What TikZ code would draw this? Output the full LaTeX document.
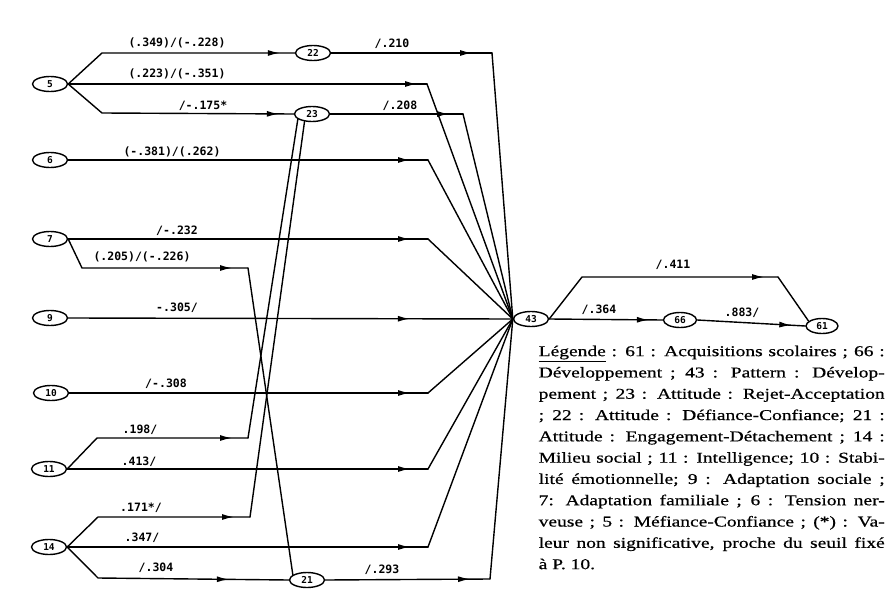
\documentclass[tikz,border=0pt]{standalone}
\usepackage{fontspec}
\setmainfont{Liberation Serif}
\newfontfamily\lblfont{DejaVu Sans Mono}
\newfontfamily\legfont[FakeStretch=1.3,FakeBold=0.6]{Liberation Serif}
\usetikzlibrary{shapes.geometric,arrows.meta,decorations.markings}
\begin{document}
\begin{tikzpicture}[x=1pt,y=-1pt,
  line width=1.4pt, line cap=round, line join=round,
  var/.style={ellipse,draw,line width=1.4pt,minimum width=35pt,minimum height=15pt,inner sep=0pt,
    font=\lblfont\bfseries\fontsize{9.5}{9.5}\selectfont},
  lbl/.style={font=\lblfont\bfseries\fontsize{11.5}{12}\selectfont,inner sep=0pt},
  ar/.style={postaction={decorate},decoration={markings,
    mark=at position #1 with {\arrow{Latex[length=12pt,width=6pt]}}}},
  ar/.default=-10pt]
\useasboundingbox (0,0) rectangle (894,610);

% nodes
\node[var] (n5) at (50,84) {5};
\node[var] (n6) at (50,160) {6};
\node[var] (n7) at (50,239) {7};
\node[var] (n9) at (50,318) {9};
\node[var] (n10) at (51,393) {10};
\node[var] (n11) at (49,469) {11};
\node[var] (n14) at (49,547) {14};
\node[var] (n22) at (313,53) {22};
\node[var] (n23) at (312,114) {23};
\node[var] (n21) at (307,580) {21};
\node[var] (n43) at (531,319) {43};
\node[var,minimum width=33pt] (n66) at (680,320) {66};
\node[var,minimum width=32pt] (n61) at (822,326) {61};

% bend points
\coordinate (b5a) at (102,53);
\coordinate (b5c) at (102,113);
\coordinate (e5b) at (427,84);
\coordinate (e22) at (492,53);
\coordinate (e23) at (463,114);
\coordinate (e6) at (428,160);
\coordinate (e7) at (428,239);
\coordinate (b7) at (82,268);
\coordinate (e7b) at (248,268);
\coordinate (e10) at (428,393);
\coordinate (b11) at (97,438);
\coordinate (e11a) at (248,438);
\coordinate (e11) at (428,469);
\coordinate (b14a) at (98,517);
\coordinate (e14a) at (250,517);
\coordinate (e14) at (428,547);
\coordinate (b14c) at (98,578);
\coordinate (e21) at (490,579);
\coordinate (b43) at (582,277);
\coordinate (e43) at (778,277);

% connectors
\draw[ar=-15pt] (n5.east) -- (b5a) -- (n22.west);
\draw[ar=-20pt] (n22.east) -- (e22);
\draw (e22) -- (n43.west);
\draw[ar=-10pt] (n5.east) -- (e5b);
\draw (e5b) -- (n43.west);
\draw[ar=-15pt] (n5.east) -- (b5c) -- (n23.west);
\draw[ar=-14pt] (n23.east) -- (e23);
\draw (e23) -- (n43.west);
\draw[ar=-18pt] (n6.east) -- (e6);
\draw (e6) -- (n43.west);
\draw[ar=-18pt] (n7.east) -- (e7);
\draw (e7) -- (n43.west);
\draw[ar=-16pt] (n7.east) -- (b7) -- (e7b);
\draw (e7b) -- (n21.160);
\draw[ar=-103pt] (n9.east) -- (n43.west);
\draw[ar=-18pt] (n10.east) -- (e10);
\draw (e10) -- (n43.west);
\draw[ar=-16pt] (n11.east) -- (b11) -- (e11a);
\draw (e11a) -- (n23.200);
\draw[ar=-18pt] (n11.east) -- (e11);
\draw (e11) -- (n43.west);
\draw[ar=-16pt] (n14.east) -- (b14a) -- (e14a);
\draw (e14a) -- (n23.225);
\draw[ar=-18pt] (n14.east) -- (e14);
\draw (e14) -- (n43.west);
\draw[ar=-60pt] (n14.east) -- (b14c) -- (n21.west);
\draw[ar=-20pt] (n21.east) -- (e21);
\draw (e21) -- (n43.west);
\draw[ar=-14pt] (n43.east) -- (b43) -- (e43);
\draw (e43) -- (n61.160);
\draw[ar=-14pt] (n43.east) -- (n66.west);
\draw[ar=-14pt] (n66.east) -- (n61.west);

% edge labels
\node[lbl] (l1) at (177,43) {(.349)/(-.228)};
\node[lbl] (l2) at (177,74) {(.223)/(-.351)};
\node[lbl] (l3) at (203,106) {/-.175*};
\node[lbl] (l4) at (172,152) {(-.381)/(.262)};
\node[lbl] (l5) at (392,44) {/.210};
\node[lbl] (l6) at (400,106) {/.208};
\node[lbl] (l7) at (177,231) {/-.232};
\node[lbl] (l8) at (142,257) {(.205)/(-.226)};
\node[lbl] (l9) at (177,308) {-.305/};
\node[lbl] (l10) at (166,384) {/-.308};
\node[lbl] (l11) at (140,430) {.198/};
\node[lbl] (l12) at (139,462) {.413/};
\node[lbl] (l13) at (141,508) {.171*/};
\node[lbl] (l14) at (142,538) {.347/};
\node[lbl] (l15) at (156,568) {/.304};
\node[lbl] (l16) at (382,570) {/.293};
\node[lbl] (l17) at (673,265) {/.411};
\node[lbl] (l18) at (599,310) {/.364};
\node[lbl] (l19) at (742,313) {.883/};

% legend
\node[anchor=north west, text width=346pt, align=justify, inner sep=0pt,
  font=\legfont\fontsize{15}{21.3}\selectfont] (leg) at (538,345)
{\tolerance=9999 \underline{Légende} : 61 : Acquisitions scolaires ; 66 :\linebreak
Développement ; 43 : Pattern : Dévelop-\linebreak
pement ; 23 : Attitude : Rejet-Acceptation\linebreak
; 22 : Attitude : Défiance-Confiance; 21 :\linebreak
Attitude : Engagement-Détachement ; 14 :\linebreak
Milieu social ; 11 : Intelligence; 10 : Stabi-\linebreak
lité émotionnelle; 9 : Adaptation sociale ;\linebreak
7: Adaptation familiale ; 6 : Tension ner-\linebreak
veuse ; 5 : Méfiance-Confiance ; (*) : Va-\linebreak
leur non significative, proche du seuil fixé\linebreak
à P. 10.};
\end{tikzpicture}
\end{document}
